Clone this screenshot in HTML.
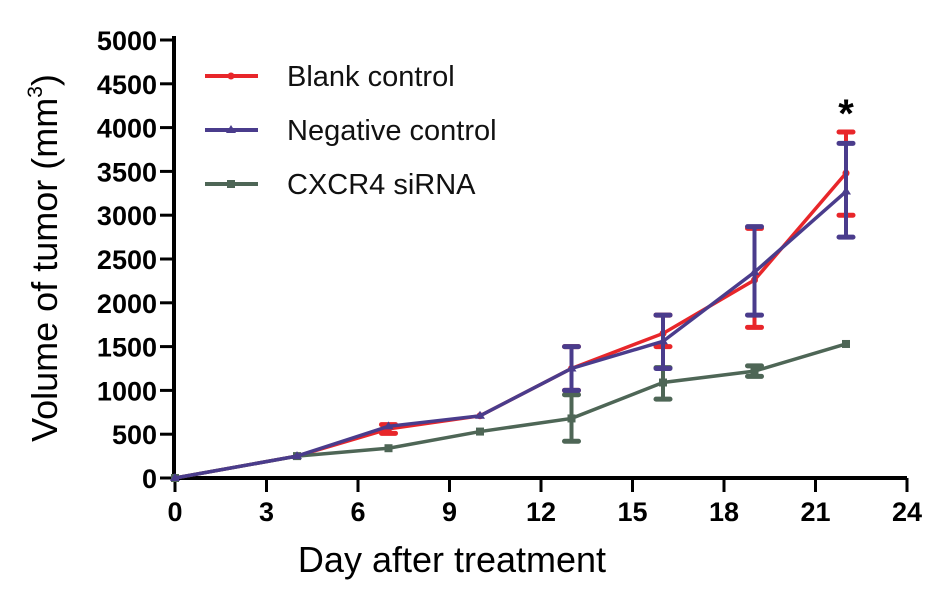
<!DOCTYPE html>
<html><head><meta charset="utf-8"><style>
body{margin:0;background:#fff;}
svg text{font-family:"Liberation Sans",sans-serif;}
</style></head><body>
<svg id="chart" width="945" height="594" viewBox="0 0 945 594" xmlns="http://www.w3.org/2000/svg">
<g id="axes"></g><g id="series"></g>
<g>
 <g><line x1="205" y1="76" x2="258" y2="76" stroke="#e8262a" stroke-width="4"/><circle cx="231" cy="76" r="3.5" fill="#e8262a"/><text x="287" y="86" font-size="29" fill="#111">Blank control</text></g>
 <g><line x1="205" y1="130" x2="258" y2="130" stroke="#4a3c8c" stroke-width="4"/><polygon points="231,125 236,133 226,133" fill="#4a3c8c"/><text x="287" y="140" font-size="29" fill="#111">Negative control</text></g>
 <g><line x1="205" y1="184" x2="258" y2="184" stroke="#4e6656" stroke-width="4"/><rect x="227" y="180" width="8" height="8" fill="#4e6656"/><text x="287" y="194" font-size="29" fill="#111">CXCR4 siRNA</text></g>
</g>
<text x="846" y="127" font-size="40" font-weight="bold" text-anchor="middle">*</text>
<text transform="translate(57,258) rotate(-90)" font-size="36" text-anchor="middle">Volume of tumor (mm<tspan font-size="21" dy="-15">3</tspan><tspan dy="15">)</tspan></text>
<text x="452" y="572" font-size="36" text-anchor="middle">Day after treatment</text>
</svg>
<script>
const days=[0,4,7,10,13,16,19,22];
const blank=[0,250,560,710,1250,1650,2260,3480];
const blankHi=[null,null,610,null,1500,1860,2850,3950];
const blankLo=[null,null,510,null,1000,1500,1720,3000];
const neg=[0,250,590,710,1250,1560,2350,3270];
const negHi=[null,null,null,null,1500,1860,2870,3820];
const negLo=[null,null,null,null,1000,1250,1860,2750];
const cx=[0,250,340,530,680,1090,1220,1530];
const cxHi=[null,null,null,null,950,1260,1280,null];
const cxLo=[null,null,null,null,420,900,1160,null];
const xTicks=[0,3,6,9,12,15,18,21,24];
const yTicks=[0,500,1000,1500,2000,2500,3000,3500,4000,4500,5000];
const NS="http://www.w3.org/2000/svg";
const X=d=>175+d*30.5, Y=v=>478-v*0.0876;
function mk(t,a,p){const e=document.createElementNS(NS,t);for(const k in a)e.setAttribute(k,a[k]);p.appendChild(e);return e;}
const ax=document.getElementById('axes');
let l=mk('line',{x1:174,y1:36,x2:174,y2:480,stroke:'#000','stroke-width':4},ax);


l=mk('line',{x1:172,y1:478,x2:907,y2:478,stroke:'#000','stroke-width':4},ax);


yTicks.forEach(v=>{mk('line',{x1:160,y1:Y(v),x2:174,y2:Y(v),stroke:'#000','stroke-width':3},ax);
 const t=mk('text',{x:157,y:Y(v)+10,'font-size':27,'font-weight':'bold','text-anchor':'end'},ax);t.textContent=v;
 
 });
xTicks.forEach(d=>{mk('line',{x1:X(d),y1:478,x2:X(d),y2:492,stroke:'#000','stroke-width':3},ax);
 const t=mk('text',{x:X(d),y:521,'font-size':27,'font-weight':'bold','text-anchor':'middle'},ax);t.textContent=d;
 
 });
const sg=document.getElementById('series');
function series(name,vals,hi,lo,col,shape){
 const g=mk('g',{},sg);
 
 
 mk('polyline',{points:days.map((d,i)=>X(d)+','+Y(vals[i])).join(' '),fill:'none',stroke:col,'stroke-width':3.5},g);
 days.forEach((d,i)=>{
  if(hi[i]!=null){mk('line',{x1:X(d),y1:Y(hi[i]),x2:X(d),y2:Y(lo[i]),stroke:col,'stroke-width':4},g);
   [hi[i],lo[i]].forEach(v=>mk('line',{x1:X(d)-7,y1:Y(v),x2:X(d)+7,y2:Y(v),stroke:col,'stroke-width':5,'stroke-linecap':'round'},g));}
  if(shape==='c')mk('circle',{cx:X(d),cy:Y(vals[i]),r:3.5,fill:col},g);
  else if(shape==='s')mk('rect',{x:X(d)-4,y:Y(vals[i])-4,width:8,height:8,fill:col},g);
  else mk('polygon',{points:`${X(d)},${Y(vals[i])-5} ${X(d)+5},${Y(vals[i])+3} ${X(d)-5},${Y(vals[i])+3}`,fill:col},g);
 });
}
series('series-blank-control',blank,blankHi,blankLo,'#e8262a','c');
series('series-cxcr4-sirna',cx,cxHi,cxLo,'#4e6656','s');
series('series-negative-control',neg,negHi,negLo,'#4a3c8c','t');
</script>
</body></html>
